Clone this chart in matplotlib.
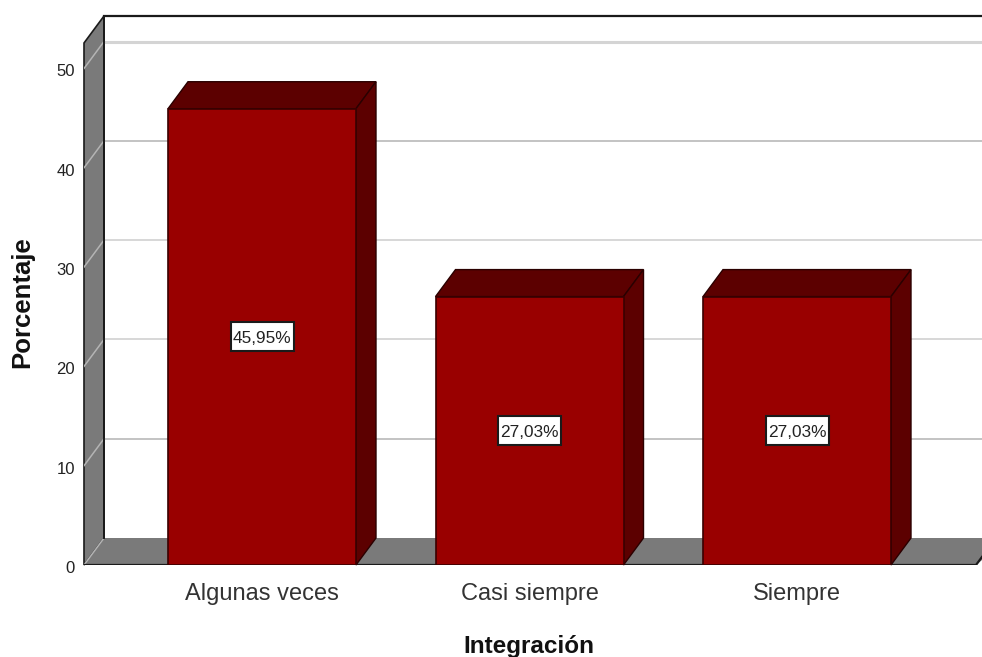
import matplotlib
matplotlib.use("Agg")
import matplotlib.pyplot as plt
from matplotlib.patches import Polygon, Rectangle
from matplotlib.transforms import offset_copy

plt.rcParams["font.family"] = ["Liberation Sans", "DejaVu Sans"]

categorias = ["Algunas veces", "Casi siempre", "Siempre"]
porcentajes = [45.95, 27.03, 27.03]
etiquetas = ["45,95%", "27,03%", "27,03%"]
y_ticks = [0, 10, 20, 30, 40, 50]

W, H = 982, 657
# margini del grafico in pixel
left, right, bottom, top = 84, 982, 565, 16
px_x = 267.5  # pixel per categoria
px_y = 9.93   # pixel per punto percentuale
first_cat = 262

fig = plt.figure(figsize=(W / 100, H / 100), dpi=100)
ax = fig.add_axes([left / W, 1 - bottom / H, (right - left) / W, (bottom - top) / H])
ax.set_xlim((left - first_cat) / px_x, (right - first_cat) / px_x)
ax.set_ylim(0, (bottom - top) / px_y)
x0, x1 = ax.get_xlim()
y_top = ax.get_ylim()[1]

# profondita 3D
dx = 20 / px_x
dy = 27 / px_y
x_end = x1 - 6 / px_x
bar_w = 188 / px_x
box_w = 63 / px_x
box_h = 29 / px_y

GREY = "#7A7A7A"
EDGE = "#1A1A1A"
DARK = "#5C0000"
RED = "#990000"


def poly(pts, color, edge=EDGE, lw=1.2, z=1):
    ax.add_patch(Polygon(pts, closed=True, facecolor=color, edgecolor=edge,
                         linewidth=lw, zorder=z, clip_on=False))


# pareti
poly([(x0, 0), (x0 + dx, dy), (x0 + dx, y_top), (x0, y_top - dy)], GREY, z=1)
poly([(x0, 0), (x0 + dx, dy), (x1 + 0.1, dy), (x_end, 0)], GREY, edge="none", z=1)
ax.plot([x0, x_end, x1], [0, 0, dy * 6 / 20], color=EDGE, lw=1.6, zorder=4, clip_on=True)
ax.plot([x0 + dx, x1], [y_top, y_top], color=EDGE, lw=1.6, zorder=4, clip_on=False)
ax.plot([x0 + dx, x0 + dx], [dy, y_top], color=EDGE, lw=1.4, zorder=4)

# griglia
for t in y_ticks:
    if t > 0:
        lw = 2.2 if t == 50 else 1.3
        col = "#D4D4D4" if t in (20, 30, 50) else "#BEBEBE"
        ax.plot([x0 + dx, x1], [t + dy, t + dy], color=col, lw=lw, zorder=2)
    ax.plot([x0, x0 + dx], [t, t + dy], color="#B4B4B4", lw=1.1, zorder=2)

# barre
xs = list(range(len(categorias)))
ax.bar(xs, porcentajes, width=bar_w, color=RED, edgecolor="#3A0000", linewidth=1.2, zorder=6)
for x, v, lab in zip(xs, porcentajes, etiquetas):
    a, b = x - bar_w / 2, x + bar_w / 2
    poly([(a, v), (a + dx, v + dy), (b + dx, v + dy), (b, v)], DARK, edge="#2A0000", lw=1, z=5)
    poly([(b, 0), (b + dx, dy), (b + dx, v + dy), (b, v)], DARK, edge="#2A0000", lw=1, z=5)
    ax.add_patch(Rectangle((x - box_w / 2, v / 2 - box_h / 2), box_w, box_h, facecolor="white",
                           edgecolor="#1A1A1A", linewidth=1.5, zorder=7))
    ax.text(x, v / 2, lab, ha="center", va="center_baseline", fontsize=12.4, color="#222222", zorder=8)

# assi
for s in ax.spines.values():
    s.set_visible(False)
ax.patch.set_visible(False)
ax.set_xticks(xs, categorias, fontsize=17, color="#333333")
ax.set_yticks(y_ticks, [str(t) for t in y_ticks], fontsize=12, color="#222222")
ax.tick_params(axis="x", length=0, pad=13)
ax.tick_params(axis="y", length=0, pad=6.5)
# etichette y spostate un po' in basso
for lb in ax.get_yticklabels():
    lb.set_transform(offset_copy(lb.get_transform(), fig=fig, x=0, y=-2, units="dots"))
ax.set_xlabel("Integración", fontsize=17.5, fontweight="bold", color="#111111")
ax.set_ylabel("Porcentaje", fontsize=18.5, fontweight="bold", color="#111111")
ax.xaxis.set_label_coords((529 - left) / (right - left), (bottom - 647) / (bottom - top), ax.transAxes)
ax.xaxis.label.set_verticalalignment("center")
ax.yaxis.set_label_coords((22 - left) / (right - left), (bottom - 302) / (bottom - top), ax.transAxes)
ax.yaxis.label.set_verticalalignment("center")

fig.savefig("out.png", dpi=100, facecolor="white")
plt.close(fig)
